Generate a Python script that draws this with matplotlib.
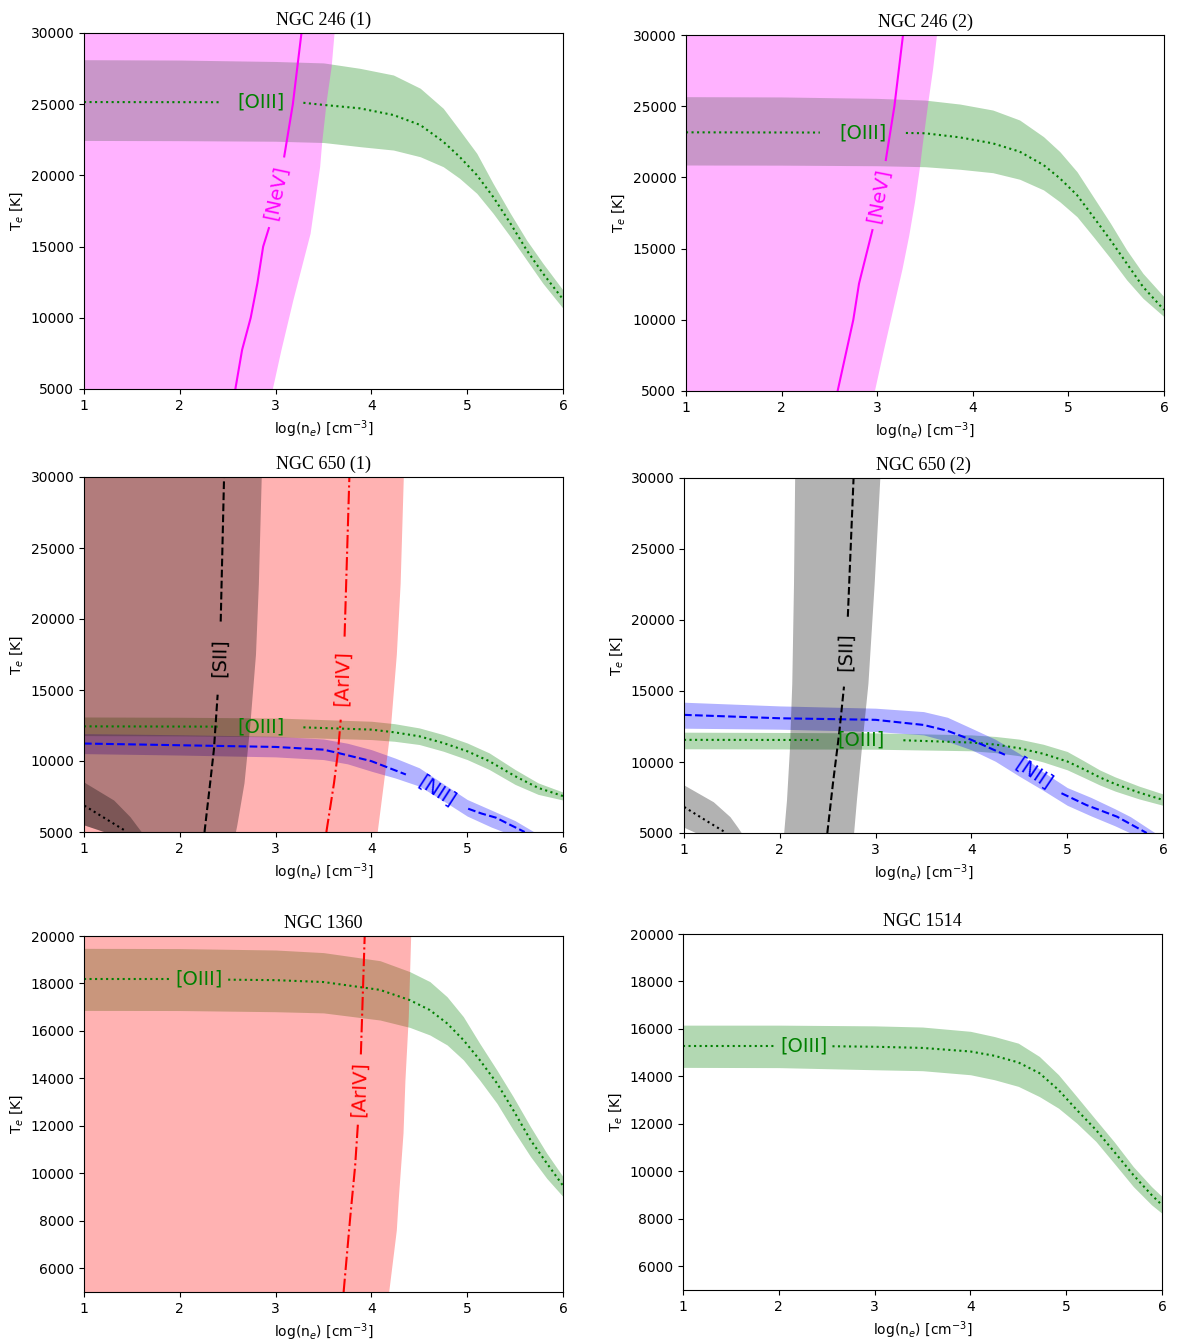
import numpy as np
import matplotlib
matplotlib.use('Agg')
import matplotlib.pyplot as plt

# ---- NGC 246 (1) ----
oiii1_x = [1, 2, 3, 3.5, 3.88, 4.23, 4.51, 4.75, 4.92, 5.10, 5.27, 5.45, 5.62, 5.79, 6.0]
oiii1_hi = [28125, 28100, 28000, 27900, 27520, 27050, 26120, 24710, 23190, 21550, 19440, 17340, 15460, 13830, 11950]
oiii1_lo = [22455, 22440, 22400, 22310, 22020, 21780, 21310, 20610, 19800, 18740, 17340, 15700, 14060, 12420, 10670]
oiii1_lx = [1, 2.415, 3.29, 3.5, 3.88, 4.23, 4.51, 4.75, 4.92, 5.10, 5.27, 5.45, 5.62, 5.79, 6.0]
oiii1_lt = [25150, 25140, 25100, 24950, 24710, 24240, 23540, 22370, 21310, 20030, 18500, 16640, 14760, 13120, 11300]
nev1_band_t = [5000, 7740, 11260, 13600, 15940, 18290, 20630, 22270, 25310, 27660, 30000]
nev1_band_r = [2.965, 3.055, 3.18, 3.27, 3.36, 3.41, 3.46, 3.48, 3.53, 3.58, 3.61]
nev1_t = [5000, 7740, 10000, 12430, 15000, 16300, 21330, 25000, 30000]
nev1_x = [2.58, 2.65, 2.74, 2.81, 2.87, 2.93, 3.09, 3.18, 3.27]

# ---- NGC 246 (2) ----
oiii2_x = [1, 2, 3, 3.5, 3.866, 4.21, 4.49, 4.74, 4.91, 5.09, 5.26, 5.44, 5.61, 5.78, 6.0]
oiii2_hi = [25670, 25650, 25550, 25430, 25150, 24730, 24030, 22860, 21810, 20400, 18640, 16780, 14900, 13260, 11620]
oiii2_lo = [20870, 20860, 20820, 20750, 20570, 20330, 19870, 19120, 18290, 17240, 15840, 14320, 12800, 11510, 10220]
oiii2_lx = [1, 2.40, 3.30, 3.5, 3.866, 4.21, 4.49, 4.74, 4.91, 5.09, 5.26, 5.44, 5.61, 5.78, 6.0]
oiii2_lt = [23165, 23150, 23120, 23100, 22810, 22390, 21810, 20870, 19940, 18760, 17240, 15600, 13960, 12320, 10700]
nev2_band_t = [5000, 7740, 11260, 13600, 15940, 18290, 20630, 22270, 25310, 27660, 30000]
nev2_band_r = [2.97, 3.06, 3.18, 3.26, 3.33, 3.39, 3.44, 3.47, 3.53, 3.58, 3.62]
nev2_t = [5000, 10000, 12550, 16300, 21220, 25000, 30000]
nev2_x = [2.586, 2.75, 2.81, 2.95, 3.09, 3.18, 3.27]

# ---- NGC 650 (1) ----
oiii3_x = [1, 2, 3, 4, 4.24, 4.5, 4.75, 5, 5.23, 5.5, 5.74, 6]
oiii3_hi = [13100, 13080, 13030, 12800, 12630, 12330, 11860, 11270, 10570, 9400, 8460, 7810]
oiii3_lo = [11790, 11770, 11700, 11510, 11390, 11160, 10690, 10100, 9400, 8350, 7650, 7250]
oiii3_lx = [1, 2.395, 3.29, 4, 4.24, 4.5, 4.75, 5, 5.23, 5.5, 5.74, 6]
oiii3_lt = [12440, 12420, 12370, 12210, 12020, 11740, 11270, 10690, 9990, 8930, 8110, 7530]
nii3_x = [1, 2, 3, 3.5, 3.75, 4, 4.25, 4.5, 4.75, 5, 5.25, 5.5, 5.7, 6]
nii3_hi = [11930, 11850, 11740, 11550, 11250, 10800, 10200, 9520, 8400, 7290, 6550, 5800, 5000, 4000]
nii3_lo = [10520, 10420, 10290, 10100, 9800, 9280, 8800, 8230, 7200, 6120, 5350, 4700, 4200, 3000]
nii3_lx = [1, 2, 3, 3.5, 3.65, 4, 4.36, 5.01, 5.15, 5.3, 5.45, 5.6]
nii3_lt = [11230, 11110, 10990, 10800, 10570, 9990, 9050, 6640, 6300, 6010, 5500, 5000]
sii3_band_t = [5000, 5500, 8460, 12510, 17520, 22500, 30000]
sii3_band_l = [1.22, 1.0, 0.6, 0.5, 0.4, 0.3, 0.2]
sii3_band_r = [2.58, 2.595, 2.67, 2.73, 2.79, 2.82, 2.85]
sii3_t = [5000, 8460, 10800, 14670, 19820, 30000]
sii3_x = [2.258, 2.317, 2.356, 2.395, 2.427, 2.462]
ariv3_band_t = [5000, 8430, 12500, 17500, 22500, 30000]
ariv3_band_r = [4.06, 4.125, 4.20, 4.26, 4.30, 4.333]
ariv3_t = [5000, 8460, 10570, 12910, 18760, 30000]
ariv3_x = [3.53, 3.61, 3.65, 3.68, 3.72, 3.77]
dot3_band_t = [5000, 5500, 6080, 7250, 8430, 9000]
dot3_band_l = [1.22, 1.0, 0.85, 0.6, 0.4, 0.3]
dot3_band_r = [1.60, 1.544, 1.48, 1.31, 1.02, 0.9]
dot3_x = [0.95, 1.01, 1.22, 1.43]
dot3_t = [7000, 6830, 5960, 5090]

# ---- NGC 650 (2) ----
oiii4_x = [1, 2, 3, 4, 4.25, 4.5, 4.75, 5, 5.17, 5.34, 5.5, 5.75, 6]
oiii4_hi = [12100, 12080, 12050, 11910, 11800, 11610, 11250, 10740, 10100, 9440, 8950, 8300, 7750]
oiii4_lo = [10930, 10920, 10900, 10790, 10660, 10440, 10000, 9450, 8920, 8380, 7950, 7400, 6950]
oiii4_lx = [1, 2.405, 3.29, 4, 4.25, 4.5, 4.75, 5, 5.17, 5.34, 5.5, 5.75, 6]
oiii4_lt = [11560, 11550, 11530, 11370, 11230, 10970, 10580, 10040, 9500, 8920, 8450, 7850, 7330]
nii4_x = [1, 2, 3, 3.5, 3.75, 4, 4.25, 4.5, 4.75, 5, 5.25, 5.5, 5.66, 5.92, 6]
nii4_hi = [14210, 13950, 13790, 13550, 13150, 12380, 11600, 10600, 9300, 8200, 7500, 6700, 6150, 5000, 4600]
nii4_lo = [12380, 12310, 12150, 11910, 11450, 10860, 10050, 9000, 8000, 6950, 6200, 5500, 5000, 4200, 4000]
nii4_lx = [1, 2, 3, 3.5, 3.75, 4, 4.35, 4.94, 5.2, 5.52, 5.83]
nii4_lt = [13320, 13080, 12970, 12610, 12200, 11560, 10510, 7800, 6970, 6150, 5000]
sii4_band_t = [5000, 7340, 10860, 15540, 22570, 30000]
sii4_band_l = [2.04, 2.07, 2.10, 2.125, 2.143, 2.155]
sii4_band_r = [2.77, 2.80, 2.85, 2.92, 2.985, 3.044]
sii4_t = [5000, 8510, 12030, 15310, 20230, 30000]
sii4_x = [2.496, 2.555, 2.62, 2.67, 2.71, 2.77]
dot4_band_t = [5000, 5400, 6150, 7200, 8380, 9000]
dot4_band_l = [1.13, 1.0, 0.8, 0.6, 0.4, 0.3]
dot4_band_r = [1.60, 1.56, 1.48, 1.306, 1.0, 0.9]
dot4_x = [0.95, 1.0, 1.22, 1.43]
dot4_t = [7000, 6840, 5915, 5050]

# ---- NGC 1360 ----
oiii5_x = [1, 2, 3, 3.5, 4.09, 4.40, 4.61, 4.79, 4.96, 5.13, 5.31, 5.48, 5.66, 5.83, 6.0]
oiii5_hi = [19480, 19470, 19410, 19300, 18960, 18500, 18080, 17440, 16600, 15480, 14350, 13230, 11970, 10850, 9860]
oiii5_lo = [16865, 16860, 16810, 16760, 16460, 16150, 15830, 15410, 14780, 13930, 12950, 11830, 10710, 9790, 9020]
oiii5_lx = [1, 1.905, 2.505, 3, 3.5, 4.09, 4.40, 4.61, 4.79, 4.96, 5.13, 5.31, 5.48, 5.66, 5.83, 6.0]
oiii5_lt = [18170, 18170, 18160, 18140, 18060, 17730, 17300, 16880, 16320, 15620, 14780, 13800, 12670, 11410, 10430, 9480]
ariv5_band_t = [5000, 6790, 7610, 8900, 11700, 13930, 16600, 20000]
ariv5_band_r = [4.18, 4.235, 4.26, 4.28, 4.33, 4.35, 4.385, 4.41]
ariv5_t = [5000, 8190, 10300, 12130, 15010, 20000]
ariv5_x = [3.71, 3.78, 3.83, 3.86, 3.89, 3.93]

# ---- NGC 1514 ----
oiii6_x = [1, 2, 3, 3.5, 4.0, 4.25, 4.5, 4.72, 4.92, 5.11, 5.31, 5.5, 5.70, 5.89, 6.0]
oiii6_hi = [16160, 16160, 16130, 16080, 15900, 15680, 15400, 14840, 14070, 13150, 12170, 11250, 10200, 9360, 8940]
oiii6_lo = [14380, 14370, 14280, 14240, 14070, 13860, 13580, 13150, 12660, 12030, 11260, 10340, 9360, 8590, 8230]
oiii6_lx = [1, 1.96, 2.56, 3, 3.5, 4.0, 4.25, 4.5, 4.72, 4.92, 5.11, 5.31, 5.5, 5.70, 5.89, 6.0]
oiii6_lt = [15290, 15290, 15270, 15250, 15200, 15050, 14870, 14590, 14140, 13430, 12590, 11750, 10830, 9850, 9010, 8580]

W, H = 1177, 1341
fig = plt.figure(figsize=(W / 100, H / 100), dpi=100)


def panel(l, t, r, b, title, ymax, yticks):
    ax = fig.add_axes([l / W, 1 - b / H, (r - l) / W, (b - t) / H])
    ax.set_xticks(range(1, 7))
    ax.set_yticks(yticks)
    ax.set_xlim(1, 6)
    ax.set_ylim(5000, ymax)
    ax.set_title(title, fontsize=13, family='Liberation Serif')
    ax.set_xlabel(r'log(n$_e$) [cm$^{-3}$]', fontsize=10)
    ax.set_ylabel(r'T$_e$ [K]', fontsize=10)
    return ax


def gap_line(ax, x, y, gap, along, **kw):
    x = np.asarray(x, float)
    y = np.asarray(y, float)
    v = x if along == 'x' else y
    for m in (v <= gap[0], v >= gap[1]):
        ax.plot(x[m], y[m], lw=1.5, **kw)


def label(ax, x, y, s, c, rot=0):
    ax.text(x, y, s, color=c, fontsize=14, rotation=rot, ha='center', va='center',
            rotation_mode='anchor')


def oiii(ax, bx, hi, lo, lx, lt, gap):
    ax.fill_between(bx, lo, hi, color='green', alpha=0.3, lw=0)
    gap_line(ax, lx, lt, gap, 'x', color='green', ls=':')
    label(ax, (gap[0] + gap[1]) / 2, lt[1], '[OIII]', 'green')


big = range(5000, 30001, 5000)
small = range(6000, 20001, 2000)

# NGC 246 (1)
ax = panel(84, 33, 563, 389, 'NGC 246 (1)', 30000, big)
oiii(ax, oiii1_x, oiii1_hi, oiii1_lo, oiii1_lx, oiii1_lt, (2.415, 3.29))
ax.fill_betweenx(nev1_band_t, 0, nev1_band_r, color='magenta', alpha=0.3, lw=0)
gap_line(ax, nev1_x, nev1_t, (16300, 21330), 'y', color='magenta', ls='-')
label(ax, 3.01, 18800, '[NeV]', 'magenta', 78)

# NGC 246 (2)
ax = panel(686, 35, 1164, 391, 'NGC 246 (2)', 30000, big)
oiii(ax, oiii2_x, oiii2_hi, oiii2_lo, oiii2_lx, oiii2_lt, (2.40, 3.30))
ax.fill_betweenx(nev2_band_t, 0, nev2_band_r, color='magenta', alpha=0.3, lw=0)
gap_line(ax, nev2_x, nev2_t, (16300, 21220), 'y', color='magenta', ls='-')
label(ax, 3.02, 18760, '[NeV]', 'magenta', 79)

# NGC 650 (1)
ax = panel(84, 477, 563, 832, 'NGC 650 (1)', 30000, big)
oiii(ax, oiii3_x, oiii3_hi, oiii3_lo, oiii3_lx, oiii3_lt, (2.395, 3.29))
ax.fill_between(nii3_x, nii3_lo, nii3_hi, color='blue', alpha=0.3, lw=0)
gap_line(ax, nii3_lx, nii3_lt, (4.36, 5.01), 'x', color='blue', ls='--')
label(ax, 4.68, 7850, '[NII]', 'blue', -33)
ax.fill_betweenx(ariv3_band_t, 0, ariv3_band_r, color='red', alpha=0.3, lw=0)
gap_line(ax, ariv3_x, ariv3_t, (12910, 18760), 'y', color='red', ls='-.')
label(ax, 3.70, 15830, '[ArIV]', 'red', 88)
ax.fill_betweenx(sii3_band_t, sii3_band_l, sii3_band_r, color='black', alpha=0.3, lw=0)
gap_line(ax, sii3_x, sii3_t, (14670, 19820), 'y', color='black', ls='--')
label(ax, 2.415, 17250, '[SII]', 'black', 89)
ax.fill_betweenx(dot3_band_t, dot3_band_l, dot3_band_r, color='black', alpha=0.3, lw=0)
ax.plot(dot3_x, dot3_t, color='black', ls=':', lw=1.5)

# NGC 650 (2)
ax = panel(684, 478, 1163, 833, 'NGC 650 (2)', 30000, big)
oiii(ax, oiii4_x, oiii4_hi, oiii4_lo, oiii4_lx, oiii4_lt, (2.405, 3.29))
ax.fill_between(nii4_x, nii4_lo, nii4_hi, color='blue', alpha=0.3, lw=0)
gap_line(ax, nii4_lx, nii4_lt, (4.35, 4.94), 'x', color='blue', ls='--')
label(ax, 4.65, 9150, '[NII]', 'blue', -34)
ax.fill_betweenx(sii4_band_t, sii4_band_l, sii4_band_r, color='black', alpha=0.3, lw=0)
gap_line(ax, sii4_x, sii4_t, (15310, 20230), 'y', color='black', ls='--')
label(ax, 2.69, 17770, '[SII]', 'black', 89)
ax.fill_betweenx(dot4_band_t, dot4_band_l, dot4_band_r, color='black', alpha=0.3, lw=0)
ax.plot(dot4_x, dot4_t, color='black', ls=':', lw=1.5)

# NGC 1360
ax = panel(84, 936, 563, 1292, 'NGC 1360', 20000, small)
oiii(ax, oiii5_x, oiii5_hi, oiii5_lo, oiii5_lx, oiii5_lt, (1.905, 2.505))
ax.fill_betweenx(ariv5_band_t, 0, ariv5_band_r, color='red', alpha=0.3, lw=0)
gap_line(ax, ariv5_x, ariv5_t, (12130, 15010), 'y', color='red', ls='-.')
label(ax, 3.875, 13570, '[ArIV]', 'red', 88)

# NGC 1514
ax = panel(683, 934, 1162, 1290, 'NGC 1514', 20000, small)
oiii(ax, oiii6_x, oiii6_hi, oiii6_lo, oiii6_lx, oiii6_lt, (1.96, 2.56))

fig.savefig('out.png', dpi=100)
